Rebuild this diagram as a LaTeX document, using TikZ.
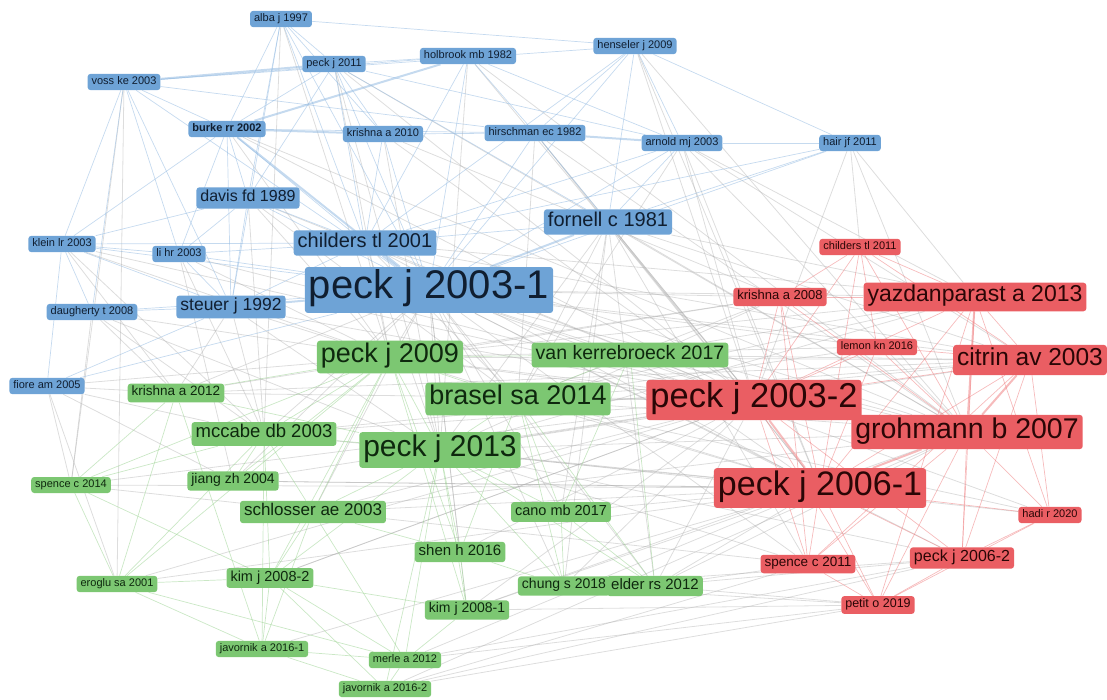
\documentclass[tikz,border=0pt]{standalone}
\usepackage{fontspec}
\setmainfont{Liberation Sans}
\usetikzlibrary{backgrounds}

\definecolor{bfill}{RGB}{110,163,214}
\definecolor{gfill}{RGB}{124,199,114}
\definecolor{rfill}{RGB}{234,94,99}
\definecolor{btext}{RGB}{16,30,48}
\definecolor{gtext}{RGB}{14,40,14}
\definecolor{rtext}{RGB}{42,6,6}
\definecolor{bedge}{RGB}{150,188,226}
\definecolor{gedge}{RGB}{150,208,140}
\definecolor{redge}{RGB}{238,120,122}
\definecolor{yedge}{RGB}{170,170,170}

\tikzset{
  lbl/.style={rectangle, rounded corners=3pt, inner xsep=4pt, inner ysep=2.5pt,
    font=\fontsize{#1}{#1}\selectfont, execute at begin node=\strut},
  bnode/.style={lbl=#1, fill=bfill, text=btext},
  gnode/.style={lbl=#1, fill=gfill, text=gtext},
  rnode/.style={lbl=#1, fill=rfill, text=rtext},
  bnode/.default=11, gnode/.default=11, rnode/.default=11,
  be/.style={draw=bedge, line width=0.7pt, opacity=0.55},
  ge/.style={draw=gedge, line width=0.7pt, opacity=0.5},
  re/.style={draw=redge, line width=0.7pt, opacity=0.5},
  ye/.style={draw=yedge, line width=0.8pt, opacity=0.4},
  heavy/.style={line width=2pt}
}

\begin{document}
\begin{tikzpicture}[x=1pt, y=-1pt]
\useasboundingbox (0,0) rectangle (1107,700);

\node[bnode] (alba97) at (281,19) {alba j 1997};
\node[bnode] (voss03) at (124,82) {voss ke 2003};
\node[bnode] (peck11) at (334,64) {peck j 2011};
\node[bnode] (holbrook82) at (468,56) {holbrook mb 1982};
\node[bnode] (henseler09) at (635,46) {henseler j 2009};
\node[bnode, font=\fontsize{11}{11}\selectfont\bfseries] (burke02) at (227,129) {burke rr 2002};
\node[bnode] (krishna10) at (383,134) {krishna a 2010};
\node[bnode] (hirschman82) at (535,133) {hirschman ec 1982};
\node[bnode] (arnold03) at (682,143) {arnold mj 2003};
\node[bnode] (hair11) at (850,143) {hair jf 2011};
\node[bnode=16] (davis89) at (248,198) {davis fd 1989};
\node[bnode=20] (fornell81) at (608,222) {fornell c 1981};
\node[bnode=20] (childers01) at (365,243) {childers tl 2001};
\node[bnode] (klein03) at (62,244) {klein lr 2003};
\node[bnode] (lihr03) at (179,254) {li hr 2003};
\node[bnode=40] (peck031) at (429,290) {peck j 2003-1};
\node[bnode=17.5] (steuer92) at (231,307) {steuer j 1992};
\node[bnode] (daugherty08) at (92,312) {daugherty t 2008};
\node[bnode] (fiore05) at (47,386) {fiore am 2005};

\node[gnode=27] (peck09) at (390,357) {peck j 2009};
\node[gnode=19.5] (vank17) at (630,355) {van kerrebroeck 2017};
\node[gnode=13.5] (krishna12) at (176,393) {krishna a 2012};
\node[gnode=27] (brasel14) at (518,399) {brasel sa 2014};
\node[gnode=18.5] (mccabe03) at (264,434) {mccabe db 2003};
\node[gnode=30] (peck13) at (440,450) {peck j 2013};
\node[gnode] (spence14) at (71,485) {spence c 2014};
\node[gnode=14] (jiang04) at (233,481) {jiang zh 2004};
\node[gnode=17] (schlosser03) at (313,512) {schlosser ae 2003};
\node[gnode=14.5] (cano17) at (561,512) {cano mb 2017};
\node[gnode=15] (shen16) at (460,552) {shen h 2016};
\node[gnode=14.5] (kim082) at (270,578) {kim j 2008-2};
\node[gnode] (eroglu01) at (117,584) {eroglu sa 2001};
\node[gnode=14] (chung18) at (564,586) {chung s 2018};
\node[gnode=15] (elder12) at (655,586) {elder rs 2012};
\node[gnode=14] (kim081) at (467,610) {kim j 2008-1};
\node[gnode] (javornik161) at (262,649) {javornik a 2016-1};
\node[gnode] (merle12) at (405,660) {merle a 2012};
\node[gnode] (javornik162) at (385,689) {javornik a 2016-2};

\node[rnode] (childers11) at (860,247) {childers tl 2011};
\node[rnode=13] (krishna08) at (780,297) {krishna a 2008};
\node[rnode=23] (yazdan13) at (975,297) {yazdanparast a 2013};
\node[rnode] (lemon16) at (877,347) {lemon kn 2016};
\node[rnode=24.5] (citrin03) at (1030,360) {citrin av 2003};
\node[rnode=34.5] (peck032) at (754,400) {peck j 2003-2};
\node[rnode=28.5] (grohmann07) at (967,432) {grohmann b 2007};
\node[rnode=34] (peck061) at (820,488) {peck j 2006-1};
\node[rnode] (hadi20) at (1050,515) {hadi r 2020};
\node[rnode=13.5] (spence11) at (808,564) {spence c 2011};
\node[rnode=16] (peck062) at (962,558) {peck j 2006-2};
\node[rnode=12.5] (petit19) at (878,605) {petit o 2019};

\begin{pgfonlayer}{background}
\foreach \a/\b in {peck031/peck032, peck031/peck061, peck031/grohmann07, peck031/citrin03,
  peck031/yazdan13, peck031/peck09, peck031/peck13, peck031/brasel14, peck031/mccabe03,
  peck031/krishna08, peck031/schlosser03, peck031/vank17, peck031/kim081, peck031/shen16,
  peck031/cano17, peck031/elder12, peck031/chung18, peck031/jiang04, peck031/krishna12,
  peck031/peck062, peck031/spence11, peck031/lemon16, peck031/hadi20,
  childers01/peck032, childers01/peck09, childers01/peck13, childers01/peck061,
  childers01/grohmann07, childers01/citrin03, childers01/brasel14, childers01/yazdan13,
  fornell81/peck032, fornell81/peck061, fornell81/grohmann07, fornell81/brasel14,
  fornell81/peck13, fornell81/elder12, fornell81/citrin03, fornell81/cano17,
  fornell81/yazdan13, fornell81/chung18, fornell81/spence11,
  peck032/peck09, peck032/peck13, peck032/brasel14, peck032/vank17, peck032/mccabe03,
  peck032/schlosser03, peck032/elder12, peck032/kim081, peck032/shen16,
  peck032/krishna12, peck032/chung18, peck032/jiang04, peck032/kim082,
  peck061/peck09, peck061/peck13, peck061/brasel14, peck061/elder12, peck061/mccabe03,
  peck061/cano17, peck061/kim081, peck061/schlosser03, peck061/vank17, peck061/jiang04,
  peck061/merle12, peck061/javornik161, peck061/spence14, peck061/eroglu01,
  grohmann07/peck09, grohmann07/brasel14, grohmann07/peck13, grohmann07/vank17,
  grohmann07/elder12, grohmann07/schlosser03, grohmann07/kim081, grohmann07/javornik162,
  citrin03/peck09, citrin03/brasel14, citrin03/peck13, citrin03/mccabe03,
  citrin03/krishna12, citrin03/vank17,
  yazdan13/peck09, yazdan13/brasel14, yazdan13/vank17, yazdan13/peck13,
  krishna08/peck09, krishna08/brasel14, krishna08/peck13, krishna08/krishna12,
  peck062/elder12, peck062/peck13, peck062/javornik162, peck062/merle12, peck062/chung18,
  petit19/chung18, petit19/kim081, petit19/javornik162, petit19/merle12, petit19/elder12,
  spence11/spence14, spence11/elder12, spence11/peck13, spence11/javornik162,
  hadi20/peck13, hadi20/brasel14, lemon16/peck09, lemon16/brasel14,
  davis89/peck09, davis89/peck032, davis89/mccabe03, davis89/brasel14,
  steuer92/peck09, steuer92/krishna12, steuer92/peck13, steuer92/peck032, steuer92/mccabe03,
  burke02/peck032, burke02/peck09, burke02/grohmann07,
  holbrook82/peck032, holbrook82/grohmann07, holbrook82/peck13,
  hirschman82/peck032, hirschman82/peck061, hirschman82/brasel14, hirschman82/grohmann07,
  arnold03/peck032, arnold03/peck061, arnold03/grohmann07, arnold03/yazdan13,
  arnold03/citrin03, arnold03/brasel14,
  hair11/yazdan13, hair11/grohmann07, hair11/childers11, hair11/peck032,
  henseler09/peck032, henseler09/grohmann07, henseler09/peck061,
  peck11/peck032, peck11/peck09, peck11/peck13, peck11/grohmann07,
  krishna10/krishna08, krishna10/peck032, krishna10/peck13,
  klein03/peck09, klein03/peck032, klein03/krishna12, klein03/mccabe03,
  lihr03/peck09, lihr03/mccabe03, lihr03/peck032, lihr03/jiang04,
  daugherty08/peck09, daugherty08/krishna12, daugherty08/spence14, daugherty08/peck13,
  daugherty08/mccabe03, fiore05/krishna12, fiore05/peck09, fiore05/eroglu01,
  fiore05/spence14, fiore05/mccabe03, fiore05/jiang04,
  alba97/mccabe03, alba97/peck09, voss03/spence14, voss03/eroglu01,
  eroglu01/peck032, jiang04/peck061, kim082/peck032, spence14/peck032}
  \draw[ye] (\a) -- (\b);

\foreach \a/\b in {alba97/peck11, alba97/burke02, alba97/davis89, alba97/childers01,
  alba97/peck031, alba97/henseler09, alba97/krishna10, alba97/steuer92,
  voss03/holbrook82, voss03/burke02, voss03/klein03, voss03/daugherty08, voss03/lihr03,
  voss03/steuer92, voss03/peck031, voss03/hirschman82,
  peck11/holbrook82, peck11/burke02, peck11/krishna10, peck11/childers01, peck11/peck031,
  peck11/davis89, peck11/fornell81, peck11/arnold03,
  holbrook82/hirschman82, holbrook82/peck031, holbrook82/childers01, holbrook82/arnold03,
  henseler09/hair11, henseler09/fornell81, henseler09/arnold03, henseler09/hirschman82,
  henseler09/peck031, henseler09/childers01, henseler09/voss03,
  burke02/hirschman82, burke02/davis89, burke02/childers01, burke02/steuer92,
  burke02/lihr03, burke02/klein03,
  krishna10/hirschman82, krishna10/peck031, krishna10/childers01,
  hirschman82/peck031, hirschman82/fornell81,
  arnold03/hair11, arnold03/fornell81, arnold03/peck031, arnold03/childers01,
  hair11/fornell81, hair11/childers01, hair11/peck031,
  davis89/childers01, davis89/peck031, davis89/steuer92, davis89/lihr03, davis89/klein03,
  childers01/steuer92, childers01/fornell81, childers01/klein03, childers01/lihr03,
  klein03/lihr03, klein03/peck031, klein03/daugherty08, klein03/steuer92,
  lihr03/peck031, lihr03/steuer92, steuer92/daugherty08, steuer92/fiore05,
  daugherty08/peck031, fiore05/peck031, fiore05/klein03}
  \draw[be] (\a) -- (\b);
\foreach \a/\b in {voss03/peck11, holbrook82/burke02, burke02/krishna10,
  hirschman82/arnold03, childers01/peck031, fornell81/peck031, burke02/peck031,
  steuer92/peck031}
  \draw[be, heavy] (\a) -- (\b);

\foreach \a/\b in {peck09/peck13, peck09/brasel14, peck09/mccabe03, peck09/schlosser03,
  peck09/kim082, peck09/shen16, peck09/vank17, peck09/krishna12, peck09/jiang04,
  peck09/eroglu01, peck09/kim081,
  peck13/brasel14, peck13/shen16, peck13/kim081, peck13/cano17, peck13/chung18,
  peck13/elder12, peck13/schlosser03, peck13/mccabe03, peck13/merle12,
  peck13/javornik162, peck13/krishna12, peck13/kim082,
  brasel14/vank17, brasel14/cano17, brasel14/chung18, brasel14/elder12, brasel14/shen16,
  mccabe03/schlosser03, mccabe03/jiang04, mccabe03/kim082, mccabe03/spence14,
  mccabe03/eroglu01, mccabe03/javornik161,
  krishna12/spence14, krishna12/eroglu01, krishna12/javornik161,
  spence14/eroglu01, spence14/peck09, spence14/kim082,
  schlosser03/kim082, schlosser03/merle12, schlosser03/javornik161, schlosser03/shen16,
  kim082/eroglu01, kim082/javornik161, kim082/kim081, kim082/merle12,
  shen16/kim081, shen16/chung18,
  merle12/javornik162, merle12/javornik161, merle12/kim081,
  javornik162/javornik161, javornik162/kim082,
  cano17/chung18, cano17/elder12, vank17/elder12, vank17/cano17,
  eroglu01/javornik161, eroglu01/merle12}
  \draw[ge] (\a) -- (\b);

\foreach \a/\b in {childers11/krishna08, childers11/yazdan13, childers11/peck032,
  childers11/grohmann07, childers11/peck061, childers11/citrin03, childers11/lemon16,
  krishna08/yazdan13, krishna08/peck032, krishna08/peck061, krishna08/spence11,
  krishna08/grohmann07,
  yazdan13/citrin03, yazdan13/peck032, yazdan13/peck061, yazdan13/hadi20,
  yazdan13/peck062, yazdan13/petit19,
  lemon16/peck032, lemon16/peck061, lemon16/grohmann07, lemon16/citrin03,
  citrin03/peck032, citrin03/peck061, citrin03/hadi20, citrin03/peck062,
  citrin03/spence11,
  peck032/spence11, peck032/petit19, peck032/peck062,
  grohmann07/hadi20, grohmann07/peck062, grohmann07/petit19, grohmann07/spence11,
  peck061/spence11, peck061/peck062, peck061/petit19, peck061/hadi20,
  spence11/petit19, peck062/petit19, hadi20/peck062, hadi20/petit19}
  \draw[re] (\a) -- (\b);
\foreach \a/\b in {peck032/grohmann07, peck032/peck061, yazdan13/grohmann07,
  citrin03/grohmann07, grohmann07/peck061}
  \draw[re, heavy] (\a) -- (\b);
\end{pgfonlayer}

\end{tikzpicture}
\end{document}
